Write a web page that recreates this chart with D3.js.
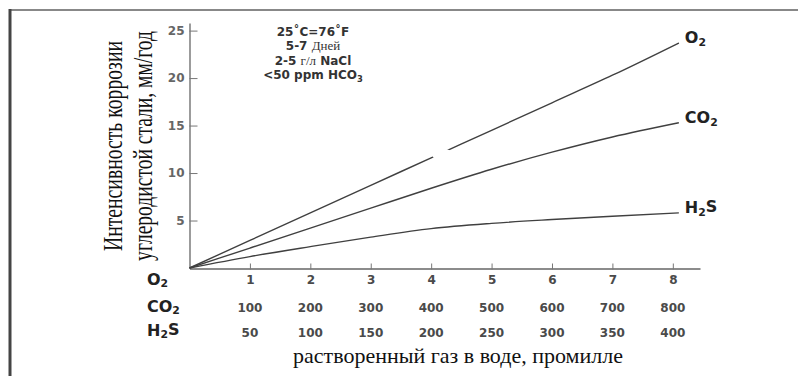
<!DOCTYPE html>
<html>
<head>
<meta charset="utf-8">
<script src="https://cdn.jsdelivr.net/npm/d3@7/dist/d3.min.js"></script>
<style>
    body { margin: 0; background: #fff; }
    svg { display: block; }
    .tick-label { font-family: "DejaVu Sans", sans-serif; font-weight: bold; font-size: 12px; fill: #4a4a4a; }
    .row-label { font-family: "DejaVu Sans", sans-serif; font-weight: bold; font-size: 16px; fill: #222; }
    .note { font-family: "DejaVu Sans", sans-serif; font-weight: bold; font-size: 12px; fill: #333; }
    .serif-title { font-family: "Liberation Serif", "Times New Roman", serif; fill: #111; }
</style>
</head>
<body>
<div id="chart"></div>
<script>
// gas level on the O2 scale (mg/l); CO2 and H2S rows are the same positions
const gasLevels = [0, 1, 2, 3, 4, 5, 6, 7, 8.1];
const o2Rate = [0, 2.9, 5.8, 8.7, 11.6, 14.5, 17.4, 20.3, 23.7];
const co2Rate = [0, 2.1, 4.2, 6.3, 8.4, 10.4, 12.2, 13.8, 15.3];
const h2sRate = [0, 1.2, 2.25, 3.25, 4.15, 4.7, 5.1, 5.45, 5.8];

const xTickValues = [1, 2, 3, 4, 5, 6, 7, 8];
const o2TickLabels = ["1", "2", "3", "4", "5", "6", "7", "8"];
const co2TickLabels = ["100", "200", "300", "400", "500", "600", "700", "800"];
const h2sTickLabels = ["50", "100", "150", "200", "250", "300", "350", "400"];
const yTickValues = [5, 10, 15, 20, 25];

const noteLines = [
    [{ t: "25˚C=76˚F" }],
    [{ t: "5-7 " }, { t: "Дней", serif: true }],
    [{ t: "2-5 " }, { t: "г/л", serif: true }, { t: " NaCl" }],
    [{ t: "<50 ppm HCO" }, { t: "3", sub: true }]
];

const width = 798, height = 376;

const svg = d3.select("#chart").append("svg")
    .attr("width", width)
    .attr("height", height);

// scanned frame: only top and left edges show
svg.append("line").attr("x1", 10).attr("y1", 10).attr("x2", width).attr("y2", 10)
    .attr("stroke", "#888").attr("stroke-width", 2);
svg.append("line").attr("x1", 10).attr("y1", 9).attr("x2", 10).attr("y2", height)
    .attr("stroke", "#444").attr("stroke-width", 3);

const x = d3.scaleLinear().domain([0, 8.45]).range([189.5, 700]);
const y = d3.scaleLinear().domain([0, 25.8]).range([268, 23]);

// y axis, ticks pointing inward
const yAxis = svg.append("g")
    .attr("transform", "translate(" + x(0) + ",0)")
    .call(d3.axisLeft(y).tickValues(yTickValues).tickSizeInner(-8).tickSizeOuter(0).tickPadding(5));
yAxis.select(".domain").attr("stroke", "#666").attr("stroke-width", 1.3);
yAxis.selectAll(".tick line").attr("stroke", "#777");
yAxis.selectAll(".tick text").attr("class", "tick-label").attr("fill", null).style("fill", "#666");

// x axis with O2 labels
const xAxis = svg.append("g")
    .attr("transform", "translate(0," + (y(0) + 0.5) + ")")
    .call(d3.axisBottom(x).tickValues(xTickValues)
        .tickFormat(function(d, i) { return o2TickLabels[i]; })
        .tickSizeInner(-5).tickSizeOuter(0).tickPadding(7));
xAxis.select(".domain").attr("stroke", "#666").attr("stroke-width", 1.3);
xAxis.selectAll(".tick line").attr("stroke", "#777").attr("y2", -5).attr("y1", 1);
xAxis.selectAll(".tick text").attr("class", "tick-label").attr("fill", null);

svg.append("g").selectAll("text")
    .data(co2TickLabels)
    .join("text")
    .attr("class", "tick-label")
    .attr("x", function(d, i) { return x(xTickValues[i]); })
    .attr("y", 312)
    .attr("text-anchor", "middle")
    .text(function(d) { return d; });

svg.append("g").selectAll("text")
    .data(h2sTickLabels)
    .join("text")
    .attr("class", "tick-label")
    .attr("x", function(d, i) { return x(xTickValues[i]); })
    .attr("y", 337)
    .attr("text-anchor", "middle")
    .text(function(d) { return d; });

function gasLabel(sel, parts) {
    parts.forEach(function(p) {
        const ts = sel.append("tspan").text(p.t);
        if (p.sub) {
            ts.attr("font-size", "0.68em").attr("dy", "0.22em");
        } else if (sel.selectAll("tspan").size() > 1) {
            ts.attr("dy", "-0.22em");
        }
    });
    return sel;
}

// row labels on the left
const rowLabels = [
    { y: 284.5, parts: [{ t: "O" }, { t: "2", sub: true }] },
    { y: 312, parts: [{ t: "CO" }, { t: "2", sub: true }] },
    { y: 336, parts: [{ t: "H" }, { t: "2", sub: true }, { t: "S" }] }
];
rowLabels.forEach(function(r) {
    gasLabel(svg.append("text").attr("class", "row-label").attr("x", 147).attr("y", r.y), r.parts);
});

// curves
const series = [
    { name: [{ t: "O" }, { t: "2", sub: true }], values: o2Rate },
    { name: [{ t: "CO" }, { t: "2", sub: true }], values: co2Rate },
    { name: [{ t: "H" }, { t: "2", sub: true }, { t: "S" }], values: h2sRate }
];

const line = d3.line()
    .x(function(d, i) { return x(gasLevels[i]); })
    .y(function(d) { return y(d); })
    .curve(d3.curveMonotoneX);

series.forEach(function(s) {
    svg.append("path")
        .attr("d", line(s.values))
        .attr("fill", "none")
        .attr("stroke", "#404040")
        .attr("stroke-width", 1.4);

    const last = s.values.length - 1;
    gasLabel(svg.append("text")
        .attr("class", "row-label")
        .attr("x", x(gasLevels[last]) + 6)
        .attr("y", y(s.values[last]) + 0.5), s.name);
});

// scan blemish on the O2 line
svg.append("ellipse")
    .attr("cx", x(4.2))
    .attr("cy", y(11.9))
    .attr("rx", 11)
    .attr("ry", 6)
    .attr("fill", "#fff");

// conditions note
const noteY = [36, 50, 65, 79];
noteLines.forEach(function(parts, i) {
    const t = svg.append("text")
        .attr("class", "note")
        .attr("x", 313)
        .attr("y", noteY[i])
        .attr("text-anchor", "middle");
    parts.forEach(function(p) {
        const ts = t.append("tspan").text(p.t);
        if (p.serif) {
            ts.style("font-family", "'Liberation Serif', serif").style("font-weight", "normal").style("font-size", "13px");
        }
        if (p.sub) {
            ts.attr("font-size", "0.7em").attr("dy", "0.3em");
        }
    });
});

// axis titles
svg.append("text")
    .attr("class", "serif-title")
    .attr("x", 458)
    .attr("y", 363)
    .attr("text-anchor", "middle")
    .style("font-size", "22px")
    .text("растворенный газ в воде, промилле");

// the scanned y title is squeezed along its length
const yTitle = ["Интенсивность коррозии", "углеродистой стали, мм/год"];
const yTitleX = [122, 152];
const yTitleLen = [210, 230];
yTitle.forEach(function(t, i) {
    const txt = svg.append("text")
        .attr("class", "serif-title")
        .attr("text-anchor", "middle")
        .style("font-size", "27px")
        .text(t);
    const sx = yTitleLen[i] / txt.node().getComputedTextLength();
    txt.attr("transform", "translate(" + yTitleX[i] + ",146) rotate(-90) scale(" + sx.toFixed(3) + ",1)");
});
</script>
</body>
</html>
